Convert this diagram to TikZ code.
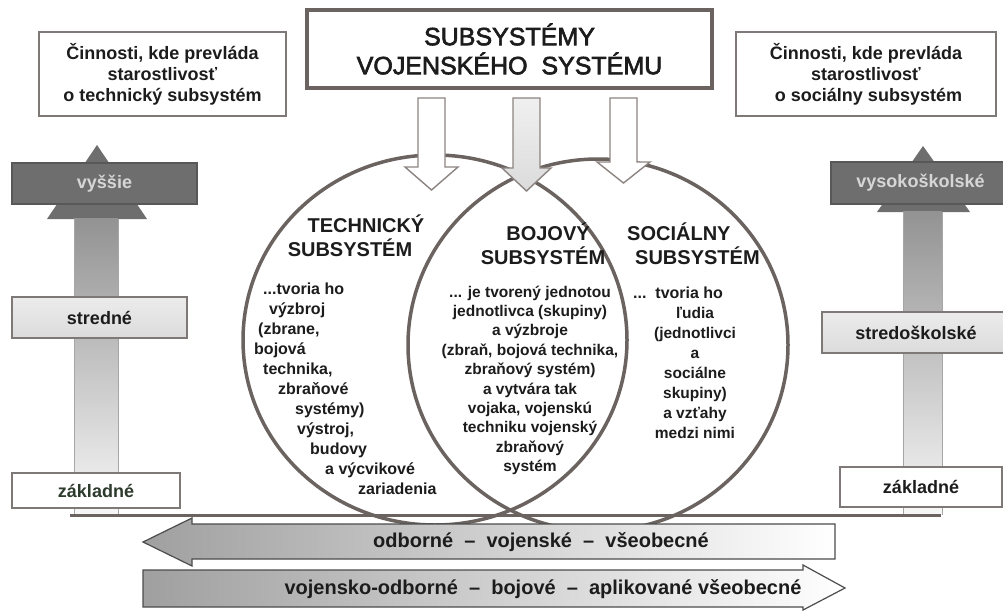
\documentclass[tikz,border=0pt]{standalone}
\usepackage{fontspec}
\setmainfont{Liberation Sans}
\newfontfamily\titlefont{Liberation Sans}[FakeBold=2.5]
\newcommand\mydots{...}
\definecolor{lineC}{HTML}{6B6360}
\definecolor{boxC}{HTML}{7E7876}
\definecolor{arrC}{HTML}{8C8480}
\definecolor{darkG}{HTML}{6E6E6E}
\definecolor{txtC}{HTML}{1C1C1C}
\definecolor{lightT}{HTML}{D6D6D6}
\definecolor{greenT}{HTML}{2D3B2D}
\tikzset{
  txt/.style={inner sep=0pt, text=txtC},
  bodyl/.style={txt, anchor=base west, font=\fontsize{16}{18}\selectfont\bfseries},
  bodyc/.style={txt, anchor=base, font=\fontsize{15.5}{18}\selectfont\bfseries},
  ctitle/.style={txt, anchor=base, font=\fontsize{20}{24}\selectfont\bfseries},
  lvbox/.style={draw=boxC, line width=1.5pt, inner sep=0pt, text=txtC,
                font=\fontsize{18}{20}\selectfont\bfseries},
  infobox/.style={draw=boxC, line width=1.5pt, fill=white, align=center, inner sep=0pt,
                  text=txtC, font=\fontsize{18}{21}\selectfont\bfseries},
  blockarrow/.style={draw=arrC, line width=1.4pt, line join=miter},
  barlbl/.style={txt, font=\fontsize{20}{22}\selectfont\bfseries},
  circ/.style={draw=lineC, line width=3.5pt},
}
\begin{document}
\begin{tikzpicture}[x=1pt,y=-1pt]
\useasboundingbox (0,0) rectangle (1003,611);
\fill[white] (0,0) rectangle (1003,611);

% base line
\coordinate (baseL) at (70,515);
\coordinate (baseR) at (941,515);

% left vertical arrow
\fill[darkG] (97,145) -- (147,219) -- (47,219) -- cycle;
\shade[top color=gray!85, bottom color=gray!6] (74,218) rectangle (118,515);
\draw[gray!70, line width=0.8pt] (74,219) -- (74,515) (118,219) -- (118,515);
% right vertical arrow
\fill[darkG] (923,146) -- (970,212) -- (877,212) -- cycle;
\shade[top color=gray!85, bottom color=gray!6] (903,211) rectangle (942,515);
\draw[gray!70, line width=0.8pt] (903,212) -- (903,515) (942,212) -- (942,515);
\draw[lineC, line width=3pt] (baseL) -- (baseR);

% level boxes left
\node[lvbox, fill=darkG, draw=darkG!80!black, text=lightT, minimum width=185pt, minimum height=41pt] (vyssie) at (104.5,183.5) {vyššie};
\node[lvbox, top color=gray!15, bottom color=gray!28, minimum width=175pt, minimum height=41pt] (stredne) at (99.5,317.5) {stredné};
\node[lvbox, fill=white, text=greenT, minimum width=168pt, minimum height=35pt] (zakladneL) at (96,490.5) {základné};
% level boxes right
\node[lvbox, fill=darkG, draw=darkG!80!black, text=lightT, minimum width=179pt, minimum height=42pt] (vysoko) at (920.5,183) {vysokoškolské};
\node[lvbox, top color=gray!15, bottom color=gray!28, minimum width=188pt, minimum height=41pt] (stredo) at (916,332.5) {stredoškolské};
\node[lvbox, fill=white, minimum width=162pt, minimum height=40pt] (zakladneR) at (921,487) {základné};

% circles
\draw[circ] (435,340) ellipse [x radius=192, y radius=185];
\draw[circ] (598,345) ellipse [x radius=190, y radius=186];

% top block arrows
\draw[blockarrow, fill=white] (418,98) -- (445,98) -- (445,167) -- (458,167) -- (431.5,190) -- (405,167) -- (418,167) -- cycle;
\draw[blockarrow, top color=gray!12, bottom color=gray!28] (513,98) -- (540,98) -- (540,168) -- (551,168) -- (526.5,191) -- (502,168) -- (513,168) -- cycle;
\draw[blockarrow, fill=white] (610,98) -- (637,98) -- (637,162) -- (650,162) -- (623.5,183) -- (597,162) -- (610,162) -- cycle;

% title and info boxes
\node[draw=lineC, line width=4pt, fill=white, minimum width=405pt, minimum height=78pt, inner sep=0pt,
      align=center, text=txtC, font=\titlefont\fontsize{25}{29}\selectfont] (title) at (509.5,49)
      {SUBSYSTÉMY\\VOJENSKÉHO~~SYSTÉMU};
\node[infobox, minimum width=247pt, minimum height=84pt] (infoL) at (162.5,74)
      {Činnosti, kde prevláda\\starostlivosť\\o technický subsystém};
\node[infobox, minimum width=260pt, minimum height=84pt] (infoR) at (866,74)
      {Činnosti, kde prevláda\\starostlivosť\\~o sociálny subsystém};

% bottom arrows
\draw[draw=gray!60!black, line width=1.2pt, left color=gray!75, right color=white]
  (835,524) -- (192,524) -- (192,518) -- (143,542) -- (192,566) -- (192,559) -- (835,559) -- cycle;
\node[barlbl] (bar1) at (541,542) {odborné~~–~~vojenské~~–~~všeobecné};
\draw[draw=gray!60!black, line width=1.2pt, left color=gray!75, right color=white]
  (143,570) -- (803,570) -- (803,565) -- (845,588) -- (803,610) -- (803,607) -- (143,607) -- cycle;
\node[barlbl] (bar2) at (543,589) {vojensko-odborné~~–~~bojové~~–~~aplikované všeobecné};

% circle titles
\node[ctitle] (tt1) at (366,232) {TECHNICKÝ};
\node[ctitle] (tt2) at (350,256) {SUBSYSTÉM};
\node[ctitle] (bt1) at (548,240) {BOJOVÝ};
\node[ctitle] (bt2) at (543,264) {SUBSYSTÉM};
\node[ctitle, anchor=base west] (st1) at (627,240) {SOCIÁLNY};
\node[ctitle, anchor=base west] (st2) at (635,264) {SUBSYSTÉM};

% technical text
\foreach \yy/\xx/\s [count=\i] in {289/263/{\mydots tvoria ho},309/269/výzbroj,329/258/{(zbrane,},349/254/bojová,369/263/{technika,},389/278/zbraňové,409/295/{systémy)},429/297/{výstroj,},449/310/budovy,469/325/{a výcvikové},489/358/zariadenia}
  \node[bodyl] (tech\i) at (\xx,{\yy+5}) {\s};

% combat text
\foreach \s [count=\i] in {{\mydots{} je tvorený jednotou},{jednotlivca (skupiny)},{a výzbroje},{(zbraň, bojová technika,},{zbraňový systém)},{a vytvára tak},{vojaka, vojenskú},{techniku vojenský},{zbraňový},{systém}}
  \node[bodyc] (boj\i) at (530,{292+19.4*(\i-1)+5}) {\s};

% social text
\node[bodyl] (soc1) at (633,298) {\mydots~~tvoria ho};
\foreach \s [count=\i from 2] in {ľudia,{(jednotlivci},a,sociálne,{skupiny)},{a vzťahy},{medzi nimi}}
  \node[bodyc] (soc\i) at (695,{293+20*(\i-1)+5}) {\s};
\end{tikzpicture}
\end{document}
